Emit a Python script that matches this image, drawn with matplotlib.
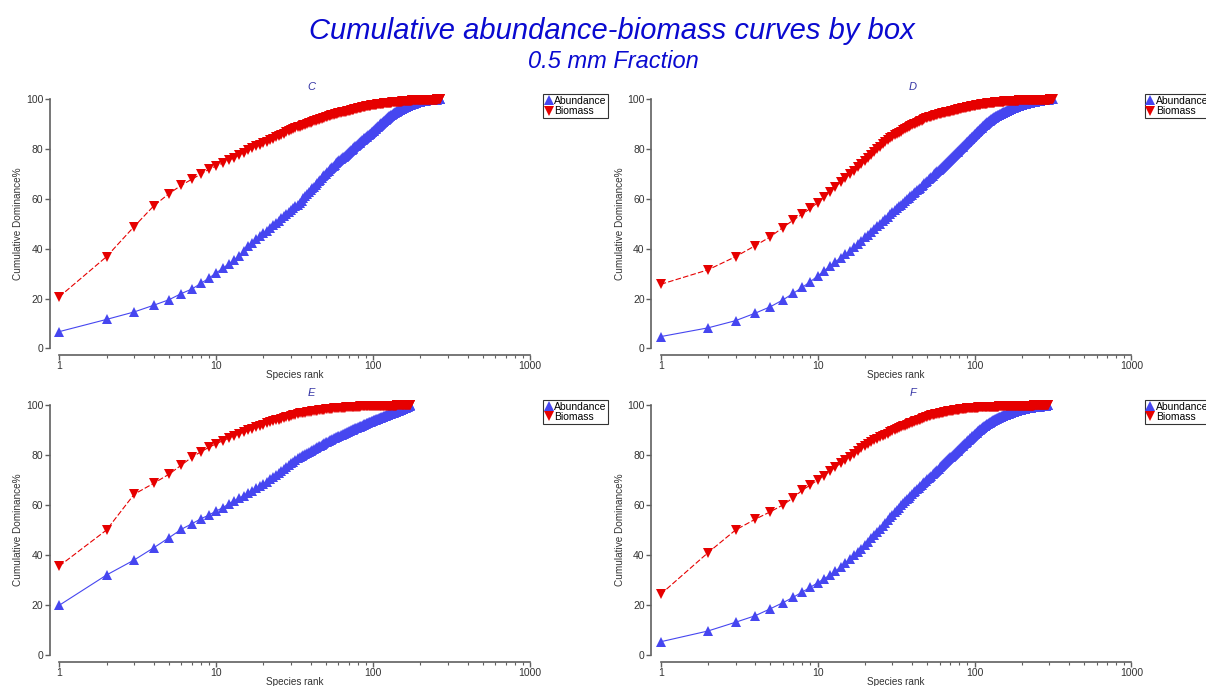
import matplotlib
matplotlib.use('Agg')
import matplotlib.pyplot as plt
from matplotlib.lines import Line2D
import numpy as np

plt.rcParams['font.family'] = ['Liberation Sans', 'DejaVu Sans']

# Cumulative dominance % by species rank
C_ABUND = [6.7, 11.6, 14.6, 17.3, 19.5, 22.0, 23.8, 26.1, 28.2, 30.3,
           32.1, 33.9, 35.5, 37.2, 39.1, 41.0, 42.4, 43.7, 45.0, 46.2,
           47.3, 48.4, 49.4, 50.4, 51.3, 52.2, 53.1, 54.0, 54.8, 55.6,
           56.3, 57.0, 57.7, 58.4, 59.3, 60.2, 61.0, 61.8, 62.6, 63.4,
           64.2, 64.9, 65.6, 66.3, 67.0, 67.7, 68.3, 69.0, 69.6, 70.2,
           70.8, 71.4, 72.0, 72.5, 73.0, 73.4, 73.8, 74.3, 74.7, 75.1,
           75.5, 75.9, 76.3, 76.7, 77.0, 77.4, 77.8, 78.1, 78.5, 78.8,
           79.2, 79.5, 79.8, 80.2, 80.5, 80.8, 81.1, 81.4, 81.7, 82.0,
           82.3, 82.6, 82.9, 83.2, 83.5, 83.7, 84.0, 84.3, 84.5, 84.8,
           85.0, 85.3, 85.5, 85.8, 86.0, 86.2, 86.5, 86.7, 86.9, 87.1,
           87.4, 87.7, 87.9, 88.2, 88.4, 88.7, 88.9, 89.2, 89.4, 89.6,
           89.9, 90.1, 90.3, 90.5, 90.8, 91.0, 91.2, 91.4, 91.6, 91.8,
           92.0, 92.2, 92.4, 92.5, 92.7, 92.9, 93.1, 93.2, 93.4, 93.5,
           93.7, 93.8, 94.0, 94.1, 94.3, 94.4, 94.5, 94.7, 94.8, 94.9,
           95.0, 95.2, 95.3, 95.4, 95.5, 95.6, 95.7, 95.8, 95.9, 96.0,
           96.1, 96.2, 96.3, 96.4, 96.5, 96.6, 96.7, 96.8, 96.8, 96.9,
           97.0, 97.1, 97.2, 97.2, 97.3, 97.4, 97.5, 97.5, 97.6, 97.7,
           97.7, 97.8, 97.9, 97.9, 98.0, 98.0, 98.1, 98.2, 98.2, 98.3,
           98.3, 98.4, 98.4, 98.5, 98.5, 98.6, 98.6, 98.7, 98.7, 98.8,
           98.8, 98.8, 98.9, 98.9, 99.0, 99.0, 99.0, 99.1, 99.1, 99.1,
           99.2, 99.2, 99.2, 99.3, 99.3, 99.3, 99.3, 99.4, 99.4, 99.4,
           99.4, 99.5, 99.5, 99.5, 99.5, 99.5, 99.6, 99.6, 99.6, 99.6,
           99.6, 99.7, 99.7, 99.7, 99.7, 99.7, 99.7, 99.8, 99.8, 99.8,
           99.8, 99.8, 99.8, 99.8, 99.8, 99.9, 99.9, 99.9, 99.9, 99.9,
           99.9, 99.9, 99.9, 99.9, 99.9, 99.9, 99.9, 99.9, 99.9, 99.9,
           99.9, 99.9, 99.9, 99.9, 100.0, 100.0, 100.0, 100.0, 100.0, 100.0,
           100.0, 100.0, 100.0, 100.0, 100.0, 100.0, 100.0]

C_BIOM = [20.7, 36.8, 48.9, 57.2, 62.1, 65.5, 67.9, 70.0, 71.9, 73.2,
          74.4, 75.5, 76.6, 77.6, 78.6, 79.6, 80.4, 81.1, 81.8, 82.4,
          83.0, 83.6, 84.2, 84.7, 85.2, 85.7, 86.2, 86.7, 87.1, 87.5,
          87.9, 88.3, 88.7, 89.0, 89.3, 89.6, 89.8, 90.1, 90.4, 90.6,
          90.9, 91.1, 91.4, 91.6, 91.8, 92.0, 92.2, 92.4, 92.6, 92.8,
          93.0, 93.2, 93.4, 93.5, 93.7, 93.8, 93.9, 94.1, 94.2, 94.3,
          94.4, 94.6, 94.7, 94.8, 94.9, 95.0, 95.1, 95.2, 95.3, 95.4,
          95.5, 95.6, 95.7, 95.8, 95.9, 96.0, 96.1, 96.2, 96.3, 96.4,
          96.5, 96.5, 96.6, 96.7, 96.8, 96.9, 96.9, 97.0, 97.1, 97.2,
          97.3, 97.3, 97.4, 97.4, 97.5, 97.5, 97.6, 97.6, 97.7, 97.7,
          97.8, 97.8, 97.9, 97.9, 97.9, 98.0, 98.0, 98.1, 98.1, 98.1,
          98.2, 98.2, 98.2, 98.3, 98.3, 98.3, 98.4, 98.4, 98.4, 98.5,
          98.5, 98.5, 98.5, 98.6, 98.6, 98.6, 98.6, 98.7, 98.7, 98.7,
          98.7, 98.8, 98.8, 98.8, 98.8, 98.8, 98.9, 98.9, 98.9, 98.9,
          98.9, 99.0, 99.0, 99.0, 99.0, 99.0, 99.0, 99.1, 99.1, 99.1,
          99.1, 99.1, 99.2, 99.2, 99.2, 99.2, 99.2, 99.3, 99.3, 99.3,
          99.3, 99.3, 99.3, 99.4, 99.4, 99.4, 99.4, 99.4, 99.4, 99.5,
          99.5, 99.5, 99.5, 99.5, 99.5, 99.5, 99.6, 99.6, 99.6, 99.6,
          99.6, 99.6, 99.6, 99.6, 99.7, 99.7, 99.7, 99.7, 99.7, 99.7,
          99.7, 99.7, 99.7, 99.7, 99.7, 99.7, 99.7, 99.7, 99.7, 99.7,
          99.7, 99.7, 99.8, 99.8, 99.8, 99.8, 99.8, 99.8, 99.8, 99.8,
          99.8, 99.8, 99.8, 99.8, 99.8, 99.8, 99.8, 99.8, 99.8, 99.8,
          99.8, 99.8, 99.8, 99.8, 99.8, 99.8, 99.8, 99.8, 99.8, 99.8,
          99.9, 99.9, 99.9, 99.9, 99.9, 99.9, 99.9, 99.9, 99.9, 99.9,
          99.9, 99.9, 99.9, 99.9, 99.9, 99.9, 99.9, 99.9, 99.9, 99.9,
          99.9, 99.9, 99.9, 99.9, 99.9, 100.0, 100.0, 100.0, 100.0, 100.0,
          100.0, 100.0, 100.0, 100.0, 100.0, 100.0, 100.0]

D_ABUND = [4.7, 8.2, 11.1, 14.1, 16.7, 19.4, 22.1, 24.5, 26.8, 29.0,
           31.1, 33.1, 34.8, 36.3, 37.7, 39.0, 40.5, 41.9, 43.2, 44.5,
           45.7, 46.9, 48.0, 49.1, 50.1, 51.1, 52.0, 52.9, 53.8, 54.7,
           55.5, 56.3, 57.0, 57.7, 58.4, 59.1, 59.8, 60.5, 61.1, 61.7,
           62.3, 62.9, 63.5, 64.0, 64.5, 65.1, 65.6, 66.2, 66.7, 67.2,
           67.8, 68.3, 68.8, 69.3, 69.8, 70.3, 70.7, 71.2, 71.6, 72.1,
           72.5, 72.9, 73.4, 73.8, 74.2, 74.6, 75.0, 75.4, 75.8, 76.2,
           76.5, 76.9, 77.3, 77.6, 78.0, 78.3, 78.7, 79.0, 79.3, 79.7,
           80.0, 80.3, 80.7, 81.0, 81.3, 81.7, 82.0, 82.3, 82.7, 83.0,
           83.3, 83.6, 83.9, 84.2, 84.5, 84.8, 85.0, 85.3, 85.6, 85.9,
           86.1, 86.4, 86.7, 86.9, 87.2, 87.4, 87.7, 87.9, 88.2, 88.4,
           88.6, 88.9, 89.1, 89.3, 89.5, 89.7, 89.9, 90.1, 90.3, 90.5,
           90.7, 90.9, 91.1, 91.2, 91.4, 91.6, 91.7, 91.9, 92.0, 92.2,
           92.3, 92.5, 92.6, 92.7, 92.9, 93.0, 93.1, 93.2, 93.3, 93.4,
           93.5, 93.6, 93.7, 93.8, 93.9, 94.0, 94.1, 94.2, 94.3, 94.4,
           94.5, 94.6, 94.7, 94.8, 94.9, 95.0, 95.1, 95.2, 95.3, 95.4,
           95.5, 95.5, 95.6, 95.7, 95.8, 95.9, 95.9, 96.0, 96.1, 96.2,
           96.2, 96.3, 96.4, 96.4, 96.5, 96.6, 96.6, 96.7, 96.8, 96.8,
           96.9, 96.9, 97.0, 97.1, 97.1, 97.2, 97.2, 97.3, 97.3, 97.4,
           97.4, 97.5, 97.5, 97.6, 97.6, 97.7, 97.7, 97.8, 97.8, 97.9,
           97.9, 97.9, 98.0, 98.0, 98.1, 98.1, 98.1, 98.2, 98.2, 98.2,
           98.3, 98.3, 98.3, 98.4, 98.4, 98.4, 98.5, 98.5, 98.5, 98.6,
           98.6, 98.6, 98.6, 98.7, 98.7, 98.7, 98.7, 98.8, 98.8, 98.8,
           98.8, 98.9, 98.9, 98.9, 98.9, 99.0, 99.0, 99.0, 99.0, 99.1,
           99.1, 99.1, 99.1, 99.2, 99.2, 99.2, 99.2, 99.3, 99.3, 99.3,
           99.3, 99.3, 99.4, 99.4, 99.4, 99.4, 99.4, 99.5, 99.5, 99.5,
           99.5, 99.5, 99.6, 99.6, 99.6, 99.6, 99.6, 99.6, 99.7, 99.7,
           99.7, 99.7, 99.7, 99.7, 99.7, 99.8, 99.8, 99.8, 99.8, 99.8,
           99.8, 99.8, 99.8, 99.9, 99.9, 99.9, 99.9, 99.9, 99.9, 99.9,
           99.9, 99.9, 99.9, 99.9, 99.9, 99.9, 99.9, 100.0, 100.0, 100.0,
           100.0, 100.0, 100.0, 100.0, 100.0, 100.0, 100.0, 100.0, 100.0, 100.0,
           100.0, 100.0, 100.0, 100.0, 100.0]

D_BIOM = [25.7, 31.5, 36.8, 41.2, 44.8, 48.5, 51.5, 53.9, 56.2, 58.5,
          60.6, 62.9, 64.9, 66.7, 68.3, 69.9, 71.4, 72.8, 74.1, 75.4,
          76.6, 77.8, 78.9, 80.0, 81.0, 82.0, 82.9, 83.8, 84.4, 85.0,
          85.5, 86.0, 86.5, 87.0, 87.5, 87.9, 88.3, 88.7, 89.1, 89.5,
          89.9, 90.2, 90.5, 90.8, 91.1, 91.4, 91.7, 92.0, 92.3, 92.5,
          92.7, 92.9, 93.0, 93.2, 93.3, 93.5, 93.6, 93.8, 93.9, 94.0,
          94.1, 94.3, 94.4, 94.5, 94.6, 94.7, 94.8, 94.9, 95.0, 95.1,
          95.2, 95.3, 95.4, 95.5, 95.6, 95.7, 95.8, 95.9, 96.0, 96.1,
          96.2, 96.3, 96.4, 96.4, 96.5, 96.6, 96.7, 96.7, 96.8, 96.9,
          96.9, 97.0, 97.1, 97.1, 97.2, 97.3, 97.3, 97.4, 97.4, 97.5,
          97.5, 97.6, 97.6, 97.7, 97.7, 97.8, 97.8, 97.9, 97.9, 98.0,
          98.0, 98.0, 98.1, 98.1, 98.2, 98.2, 98.2, 98.3, 98.3, 98.3,
          98.4, 98.4, 98.4, 98.5, 98.5, 98.5, 98.6, 98.6, 98.6, 98.6,
          98.7, 98.7, 98.7, 98.7, 98.8, 98.8, 98.8, 98.8, 98.9, 98.9,
          98.9, 98.9, 98.9, 99.0, 99.0, 99.0, 99.0, 99.0, 99.1, 99.1,
          99.1, 99.1, 99.1, 99.1, 99.2, 99.2, 99.2, 99.2, 99.2, 99.2,
          99.3, 99.3, 99.3, 99.3, 99.3, 99.3, 99.4, 99.4, 99.4, 99.4,
          99.4, 99.4, 99.4, 99.4, 99.4, 99.4, 99.5, 99.5, 99.5, 99.5,
          99.5, 99.5, 99.5, 99.5, 99.5, 99.5, 99.5, 99.5, 99.5, 99.5,
          99.6, 99.6, 99.6, 99.6, 99.6, 99.6, 99.6, 99.6, 99.6, 99.6,
          99.6, 99.6, 99.6, 99.6, 99.6, 99.6, 99.6, 99.6, 99.6, 99.6,
          99.7, 99.7, 99.7, 99.7, 99.7, 99.7, 99.7, 99.7, 99.7, 99.7,
          99.7, 99.7, 99.7, 99.7, 99.7, 99.7, 99.7, 99.7, 99.7, 99.7,
          99.7, 99.7, 99.7, 99.7, 99.7, 99.7, 99.7, 99.7, 99.7, 99.7,
          99.8, 99.8, 99.8, 99.8, 99.8, 99.8, 99.8, 99.8, 99.8, 99.8,
          99.8, 99.8, 99.8, 99.8, 99.8, 99.8, 99.8, 99.8, 99.8, 99.8,
          99.8, 99.8, 99.8, 99.8, 99.8, 99.8, 99.8, 99.8, 99.8, 99.8,
          99.9, 99.9, 99.9, 99.9, 99.9, 99.9, 99.9, 99.9, 99.9, 99.9,
          99.9, 99.9, 99.9, 99.9, 99.9, 99.9, 99.9, 99.9, 99.9, 99.9,
          99.9, 99.9, 99.9, 99.9, 99.9, 99.9, 99.9, 99.9, 99.9, 99.9,
          100.0, 100.0, 100.0, 100.0, 100.0, 100.0, 100.0, 100.0, 100.0, 100.0,
          100.0, 100.0, 100.0, 100.0, 100.0]

E_ABUND = [19.9, 32.0, 38.0, 42.9, 46.9, 50.3, 52.5, 54.5, 56.0, 57.6,
           58.9, 60.4, 61.7, 62.7, 63.8, 64.8, 65.8, 66.7, 67.6, 68.5,
           69.3, 70.3, 71.2, 72.1, 73.0, 73.8, 74.6, 75.3, 76.0, 76.7,
           77.4, 78.0, 78.7, 79.3, 79.7, 80.1, 80.5, 80.9, 81.3, 81.7,
           82.1, 82.4, 82.8, 83.1, 83.5, 83.8, 84.1, 84.4, 84.8, 85.1,
           85.4, 85.7, 86.0, 86.2, 86.5, 86.8, 87.0, 87.2, 87.4, 87.6,
           87.8, 88.0, 88.2, 88.4, 88.6, 88.8, 89.0, 89.2, 89.3, 89.5,
           89.7, 89.9, 90.0, 90.2, 90.4, 90.5, 90.7, 90.8, 91.0, 91.1,
           91.3, 91.4, 91.6, 91.7, 91.8, 92.0, 92.1, 92.3, 92.4, 92.5,
           92.7, 92.8, 92.9, 93.1, 93.2, 93.3, 93.4, 93.5, 93.7, 93.8,
           93.9, 94.0, 94.1, 94.2, 94.3, 94.4, 94.5, 94.6, 94.7, 94.8,
           94.9, 95.0, 95.1, 95.2, 95.3, 95.4, 95.5, 95.6, 95.7, 95.8,
           95.9, 96.0, 96.1, 96.1, 96.2, 96.3, 96.4, 96.5, 96.6, 96.6,
           96.7, 96.8, 96.9, 96.9, 97.0, 97.1, 97.2, 97.2, 97.3, 97.4,
           97.5, 97.5, 97.6, 97.7, 97.7, 97.8, 97.9, 98.0, 98.0, 98.1,
           98.2, 98.3, 98.4, 98.4, 98.5, 98.6, 98.7, 98.8, 98.8, 98.9,
           99.0, 99.1, 99.1, 99.2, 99.3, 99.4, 99.5, 99.5, 99.6, 99.7,
           99.8, 99.9, 100.0]

E_BIOM = [35.6, 50.0, 64.3, 68.7, 72.3, 76.0, 79.1, 81.3, 83.1, 84.5,
          85.7, 86.7, 87.7, 88.5, 89.2, 89.9, 90.5, 91.1, 91.7, 92.2,
          92.7, 93.1, 93.5, 93.9, 94.2, 94.5, 94.8, 95.1, 95.4, 95.7,
          95.9, 96.2, 96.4, 96.7, 96.8, 96.9, 97.0, 97.2, 97.3, 97.4,
          97.5, 97.6, 97.7, 97.8, 97.9, 98.0, 98.0, 98.1, 98.2, 98.3,
          98.3, 98.4, 98.5, 98.5, 98.6, 98.7, 98.7, 98.8, 98.8, 98.8,
          98.9, 98.9, 98.9, 99.0, 99.0, 99.0, 99.1, 99.1, 99.1, 99.2,
          99.2, 99.2, 99.2, 99.3, 99.3, 99.3, 99.3, 99.4, 99.4, 99.4,
          99.4, 99.4, 99.5, 99.5, 99.5, 99.5, 99.5, 99.5, 99.6, 99.6,
          99.6, 99.6, 99.6, 99.6, 99.6, 99.6, 99.6, 99.6, 99.6, 99.6,
          99.7, 99.7, 99.7, 99.7, 99.7, 99.7, 99.7, 99.7, 99.7, 99.7,
          99.7, 99.7, 99.7, 99.7, 99.7, 99.7, 99.7, 99.7, 99.7, 99.7,
          99.8, 99.8, 99.8, 99.8, 99.8, 99.8, 99.8, 99.8, 99.8, 99.8,
          99.8, 99.8, 99.8, 99.8, 99.8, 99.8, 99.8, 99.8, 99.8, 99.8,
          99.9, 99.9, 99.9, 99.9, 99.9, 99.9, 99.9, 99.9, 99.9, 99.9,
          99.9, 99.9, 99.9, 99.9, 99.9, 99.9, 99.9, 99.9, 99.9, 99.9,
          100.0, 100.0, 100.0, 100.0, 100.0, 100.0, 100.0, 100.0, 100.0, 100.0,
          100.0, 100.0, 100.0]

F_ABUND = [5.3, 9.6, 13.1, 15.7, 18.5, 20.9, 23.1, 25.2, 27.1, 28.9,
           30.5, 32.0, 33.6, 35.2, 36.9, 38.4, 39.9, 41.3, 42.6, 43.9,
           45.3, 46.7, 48.0, 49.3, 50.5, 51.7, 52.9, 54.0, 55.1, 56.1,
           57.1, 58.1, 59.0, 59.9, 60.7, 61.5, 62.3, 63.0, 63.7, 64.4,
           65.1, 65.7, 66.3, 66.9, 67.5, 68.1, 68.7, 69.3, 69.8, 70.3,
           70.8, 71.3, 71.8, 72.3, 72.8, 73.3, 73.7, 74.2, 74.6, 75.1,
           75.5, 75.9, 76.3, 76.7, 77.1, 77.5, 77.9, 78.3, 78.7, 79.1,
           79.4, 79.8, 80.1, 80.5, 80.8, 81.2, 81.5, 81.8, 82.2, 82.5,
           82.8, 83.1, 83.5, 83.8, 84.1, 84.4, 84.7, 85.0, 85.3, 85.6,
           85.9, 86.2, 86.5, 86.7, 87.0, 87.3, 87.5, 87.8, 88.0, 88.3,
           88.5, 88.8, 89.0, 89.2, 89.5, 89.7, 89.9, 90.1, 90.3, 90.5,
           90.7, 90.9, 91.1, 91.3, 91.5, 91.7, 91.8, 92.0, 92.2, 92.3,
           92.5, 92.6, 92.8, 92.9, 93.0, 93.2, 93.3, 93.4, 93.5, 93.7,
           93.8, 93.9, 94.0, 94.1, 94.2, 94.3, 94.4, 94.5, 94.6, 94.7,
           94.8, 94.9, 95.0, 95.1, 95.1, 95.2, 95.3, 95.4, 95.5, 95.5,
           95.6, 95.7, 95.8, 95.9, 95.9, 96.0, 96.1, 96.2, 96.2, 96.3,
           96.4, 96.4, 96.5, 96.6, 96.6, 96.7, 96.8, 96.8, 96.9, 96.9,
           97.0, 97.1, 97.1, 97.2, 97.2, 97.3, 97.3, 97.4, 97.4, 97.5,
           97.5, 97.6, 97.6, 97.7, 97.7, 97.8, 97.8, 97.9, 97.9, 97.9,
           98.0, 98.0, 98.1, 98.1, 98.1, 98.2, 98.2, 98.2, 98.3, 98.3,
           98.3, 98.4, 98.4, 98.4, 98.5, 98.5, 98.5, 98.6, 98.6, 98.6,
           98.6, 98.7, 98.7, 98.7, 98.7, 98.8, 98.8, 98.8, 98.8, 98.9,
           98.9, 98.9, 98.9, 98.9, 99.0, 99.0, 99.0, 99.0, 99.0, 99.1,
           99.1, 99.1, 99.1, 99.1, 99.2, 99.2, 99.2, 99.2, 99.2, 99.2,
           99.3, 99.3, 99.3, 99.3, 99.3, 99.3, 99.3, 99.3, 99.3, 99.3,
           99.4, 99.4, 99.4, 99.4, 99.4, 99.4, 99.4, 99.4, 99.4, 99.4,
           99.5, 99.5, 99.5, 99.5, 99.5, 99.5, 99.5, 99.5, 99.6, 99.6,
           99.6, 99.6, 99.6, 99.6, 99.6, 99.7, 99.7, 99.7, 99.7, 99.7,
           99.7, 99.8, 99.8, 99.8, 99.8, 99.8, 99.9, 99.9, 99.9, 99.9,
           100.0, 100.0, 100.0]

F_BIOM = [24.3, 40.9, 50.0, 54.3, 57.3, 60.0, 62.9, 66.0, 68.0, 70.0,
          71.7, 73.6, 75.1, 76.7, 78.1, 79.4, 80.6, 81.7, 82.8, 83.8,
          84.6, 85.3, 85.9, 86.5, 87.1, 87.6, 88.1, 88.6, 89.1, 89.6,
          90.0, 90.4, 90.8, 91.2, 91.5, 91.8, 92.1, 92.4, 92.7, 93.0,
          93.2, 93.5, 93.7, 94.0, 94.2, 94.4, 94.7, 94.9, 95.1, 95.3,
          95.5, 95.7, 95.9, 96.1, 96.2, 96.3, 96.4, 96.5, 96.6, 96.7,
          96.8, 96.9, 97.0, 97.1, 97.2, 97.3, 97.4, 97.5, 97.5, 97.6,
          97.7, 97.8, 97.8, 97.9, 98.0, 98.0, 98.1, 98.1, 98.2, 98.2,
          98.3, 98.3, 98.4, 98.4, 98.5, 98.5, 98.6, 98.6, 98.7, 98.7,
          98.7, 98.8, 98.8, 98.8, 98.8, 98.9, 98.9, 98.9, 98.9, 99.0,
          99.0, 99.0, 99.0, 99.0, 99.0, 99.1, 99.1, 99.1, 99.1, 99.1,
          99.1, 99.1, 99.1, 99.2, 99.2, 99.2, 99.2, 99.2, 99.2, 99.2,
          99.2, 99.2, 99.3, 99.3, 99.3, 99.3, 99.3, 99.3, 99.3, 99.3,
          99.3, 99.3, 99.4, 99.4, 99.4, 99.4, 99.4, 99.4, 99.4, 99.4,
          99.4, 99.4, 99.5, 99.5, 99.5, 99.5, 99.5, 99.5, 99.5, 99.5,
          99.5, 99.5, 99.5, 99.5, 99.5, 99.5, 99.5, 99.5, 99.6, 99.6,
          99.6, 99.6, 99.6, 99.6, 99.6, 99.6, 99.6, 99.6, 99.6, 99.6,
          99.6, 99.6, 99.6, 99.6, 99.6, 99.6, 99.6, 99.6, 99.7, 99.7,
          99.7, 99.7, 99.7, 99.7, 99.7, 99.7, 99.7, 99.7, 99.7, 99.7,
          99.7, 99.7, 99.7, 99.7, 99.7, 99.7, 99.7, 99.7, 99.7, 99.7,
          99.7, 99.7, 99.7, 99.7, 99.7, 99.7, 99.7, 99.7, 99.8, 99.8,
          99.8, 99.8, 99.8, 99.8, 99.8, 99.8, 99.8, 99.8, 99.8, 99.8,
          99.8, 99.8, 99.8, 99.8, 99.8, 99.8, 99.8, 99.8, 99.8, 99.8,
          99.8, 99.8, 99.8, 99.8, 99.8, 99.8, 99.8, 99.8, 99.9, 99.9,
          99.9, 99.9, 99.9, 99.9, 99.9, 99.9, 99.9, 99.9, 99.9, 99.9,
          99.9, 99.9, 99.9, 99.9, 99.9, 99.9, 99.9, 99.9, 99.9, 99.9,
          99.9, 99.9, 99.9, 99.9, 99.9, 99.9, 99.9, 99.9, 99.9, 99.9,
          99.9, 99.9, 99.9, 99.9, 99.9, 99.9, 99.9, 99.9, 100.0, 100.0,
          100.0, 100.0, 100.0, 100.0, 100.0, 100.0, 100.0, 100.0, 100.0, 100.0,
          100.0, 100.0, 100.0]

BOXES = ['C', 'D', 'E', 'F']
ABUND = [C_ABUND, D_ABUND, E_ABUND, F_ABUND]
BIOM = [C_BIOM, D_BIOM, E_BIOM, F_BIOM]
X_TICKS = [1, 10, 100, 1000]
Y_TICKS = [0, 20, 40, 60, 80, 100]

W, H = 1206, 686
BLUE = '#4646f0'
RED = '#e60000'
AXIS_GREY = '#606060'

fig = plt.figure(figsize=(W / 100, H / 100), dpi=100)

fig.text(612 / W, 1 - 31 / H, 'Cumulative abundance-biomass curves by box',
         ha='center', va='center', fontsize=21, style='italic', color='#0a0ad0')
fig.text(613 / W, 1 - 61 / H, '0.5 mm Fraction',
         ha='center', va='center', fontsize=17, style='italic', color='#0a0ad0')

# panel placement in pixels: left edge (rank 1), top (100 %), bottom (0 %)
lefts = [59.3, 660.7, 59.3, 660.7]
tops = [99.3, 99.3, 405, 405]
bottoms = [348.3, 348.3, 655, 655]
ax_w = 470.7

for i, box in enumerate(BOXES):
    l, t, b = lefts[i], tops[i], bottoms[i]
    ax = fig.add_axes([l / W, 1 - b / H, ax_w / W, (b - t) / H])
    ax.patch.set_visible(False)

    a = ABUND[i]
    m = BIOM[i]
    ax.plot(np.arange(1, len(a) + 1), a, color=BLUE, lw=0.8, marker='^',
            ms=6.5, mew=0, clip_on=False, zorder=3)
    ax.plot(np.arange(1, len(m) + 1), m, color=RED, lw=0.8, ls=(0, (5, 2)),
            marker='v', ms=6.5, mew=0, clip_on=False, zorder=4)

    ax.set_xscale('log')
    ax.set_xlim(1, 1000)
    ax.set_ylim(0, 100)
    ax.set_xticks(X_TICKS, [str(v) for v in X_TICKS])
    ax.set_yticks(Y_TICKS, [str(v) for v in Y_TICKS])

    for s in ['top', 'right']:
        ax.spines[s].set_visible(False)
    ax.spines['left'].set_position(('outward', 7))
    ax.spines['bottom'].set_position(('outward', 5))
    for s in ['left', 'bottom']:
        ax.spines[s].set_color(AXIS_GREY)
        ax.spines[s].set_linewidth(1.2)

    ax.tick_params(which='major', length=3.5, width=1, color=AXIS_GREY,
                   labelsize=7.5, labelcolor='#333333', pad=1)
    ax.tick_params(which='minor', length=2, width=0.8, color=AXIS_GREY)

    fig.text((l + ax_w / 2) / W, 1 - (b + 27) / H, 'Species rank',
             ha='center', va='center', fontsize=7.2, color='#333333')
    fig.text((l - 41) / W, 1 - (t + b) / 2 / H, 'Cumulative Dominance%',
             ha='center', va='center', rotation=90, fontsize=7.2, color='#333333')
    fig.text((l + 252) / W, 1 - (t - 12) / H, box, ha='center', va='center',
             fontsize=8, style='italic', color='#3535a5')

    handles = [Line2D([], [], ls='none', marker='^', color=BLUE, ms=6.5, mew=0),
               Line2D([], [], ls='none', marker='v', color=RED, ms=6.5, mew=0)]
    leg = ax.legend(handles, ['Abundance', 'Biomass'], loc='upper left',
                    bbox_to_anchor=((l + 484) / W, 1 - (t - 5) / H),
                    bbox_transform=fig.transFigure, fontsize=7.5,
                    frameon=True, fancybox=False, borderaxespad=0,
                    borderpad=0.15, handlelength=0.7, handletextpad=0.2,
                    labelspacing=0.05)
    leg.get_frame().set_edgecolor('black')
    leg.get_frame().set_linewidth(0.8)

plt.savefig('out.png', dpi=100)
